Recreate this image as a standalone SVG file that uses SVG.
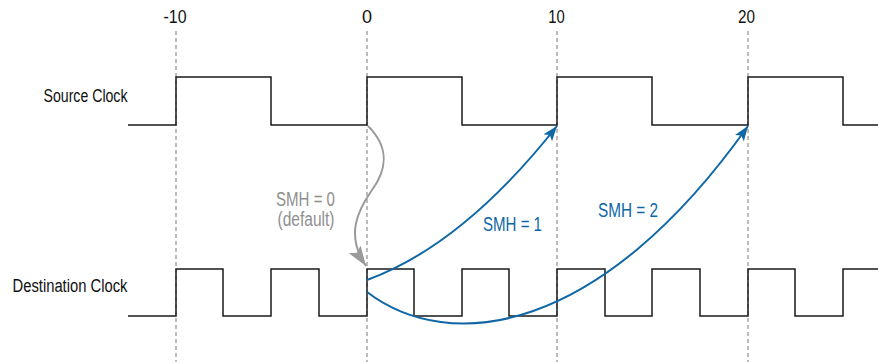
<svg xmlns="http://www.w3.org/2000/svg" width="878" height="362" viewBox="0 0 878 362">
<style>
text{font-family:"Liberation Sans",Arial,sans-serif;}
.lbl{font-size:18px;fill:#111;}
.tick{font-size:18px;fill:#111;text-anchor:middle;}
.grid{stroke:#999;stroke-width:1.3;stroke-dasharray:4,3;fill:none;}
.wave{stroke:#1a1a1a;stroke-width:1.5;fill:none;stroke-linejoin:miter;}
.blue{stroke:#0f67a6;stroke-width:2;fill:none;}
.gray{stroke:#9a9a9a;stroke-width:2;fill:none;}
.bt{font-size:19.5px;fill:#0f67a6;}
.gt{font-size:19.5px;fill:#8f8f8f;}
</style>
<defs>
<marker id="ab" markerUnits="userSpaceOnUse" markerWidth="16" markerHeight="12" refX="15" refY="5.5" orient="auto">
<path d="M0,0 L15,5.5 L0,11 L3.5,5.5 z" fill="#0f67a6"/>
</marker>
<marker id="ag" markerUnits="userSpaceOnUse" markerWidth="21" markerHeight="15" refX="20" refY="7" orient="auto">
<path d="M0,0 L20,7 L0,14 L4,7 z" fill="#9a9a9a"/>
</marker>
</defs>
<g id="grid">
<line class="grid" x1="176" y1="31" x2="176" y2="362"/>
<line class="grid" x1="367" y1="31" x2="367" y2="362"/>
<line class="grid" x1="557" y1="31" x2="557" y2="362"/>
<line class="grid" x1="748" y1="31" x2="748" y2="362"/>
</g>
<g id="ticks">
<text class="tick" x="175" y="23" textLength="23" lengthAdjust="spacingAndGlyphs">-10</text>
<text class="tick" x="367" y="23">0</text>
<text class="tick" x="556.5" y="23" textLength="16.5" lengthAdjust="spacingAndGlyphs">10</text>
<text class="tick" x="746.5" y="23" textLength="17" lengthAdjust="spacingAndGlyphs">20</text>
</g>
<g id="source-clock">
<text class="lbl" x="127.5" y="102" text-anchor="end" textLength="84" lengthAdjust="spacingAndGlyphs">Source Clock</text>
<path class="wave" d="M128,125 H176 V77 H271 V125 H367 V77 H462 V125 H557 V77 H652 V125 H748 V77 H843 V125 H878"/>
</g>
<g id="destination-clock">
<text class="lbl" x="127.5" y="292" text-anchor="end" textLength="115" lengthAdjust="spacingAndGlyphs">Destination Clock</text>
<path class="wave" d="M128,316 H176 V269 H223 V316 H271 V269 H319 V316 H367 V269 H414 V316 H462 V269 H509 V316 H557 V269 H605 V316 H652 V269 H700 V316 H748 V269 H795 V316 H843 V269 H878"/>
</g>
<g id="connectors">
<path id="smh0" class="gray" d="M368,126 C392,150 385,172 372,190 C358,210 345,235 366,266" marker-end="url(#ag)"/>
<path id="smh1" class="blue" d="M367,280 Q463,245 557,126" marker-end="url(#ab)"/>
<path id="smh2" class="blue" d="M367,292 C450,355 600,335 748,126" marker-end="url(#ab)"/>
</g>
<g id="labels">
<text class="gt" x="335" y="206" text-anchor="end" textLength="59" lengthAdjust="spacingAndGlyphs">SMH = 0</text>
<text class="gt" x="334.5" y="226" text-anchor="end" textLength="57" lengthAdjust="spacingAndGlyphs">(default)</text>
<text class="bt" x="483" y="231" textLength="59" lengthAdjust="spacingAndGlyphs">SMH = 1</text>
<text class="bt" x="598" y="217" textLength="60" lengthAdjust="spacingAndGlyphs">SMH = 2</text>
</g>
</svg>
